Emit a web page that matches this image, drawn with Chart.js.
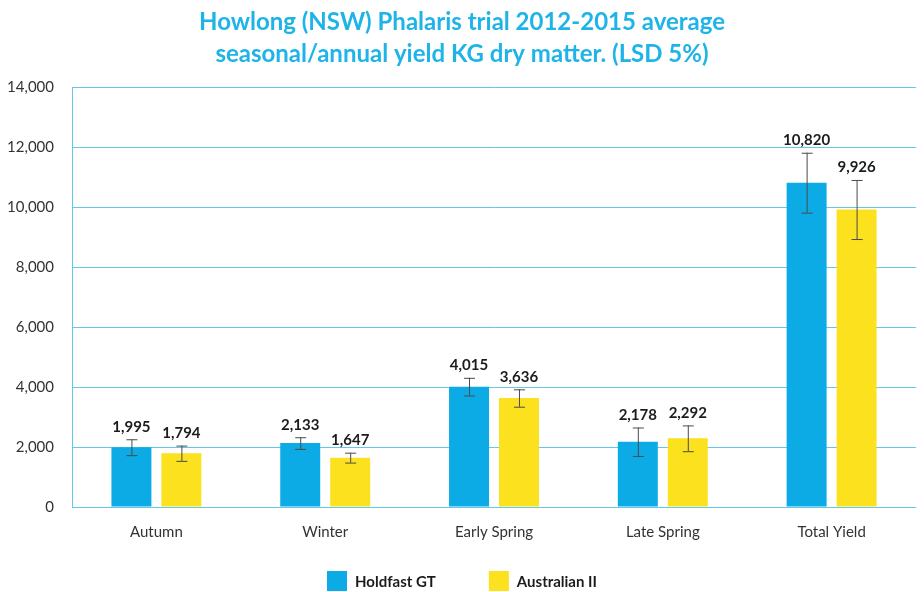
<!DOCTYPE html>
<html>
<head>
<meta charset="utf-8">
<script src="https://cdn.jsdelivr.net/npm/chart.js@4"></script>
<style>
	body { margin: 0; background: #fff; }
	#wrap { width: 924px; height: 592px; }
</style>
</head>
<body>
<div id="wrap"><canvas id="chart"></canvas></div>
<script>
// ----------------------------------------------------------------------
const categories = ["Autumn", "Winter", "Early Spring", "Late Spring", "Total Yield"]
const series_names = ["Holdfast GT", "Australian II"]
const holdfast = [1995, 2133, 4015, 2178, 10820]
const australian = [1794, 1647, 3636, 2292, 9926]
const holdfast_err = [265, 195, 295, 475, 1000]
const australian_err = [255, 165, 290, 430, 985]
const y_ticks = [0, 2000, 4000, 6000, 8000, 10000, 12000, 14000]

const title_lines = ["Howlong (NSW) Phalaris trial 2012-2015 average",
	"seasonal/annual yield KG dry matter. (LSD 5%)"]

const blue = "#0DABE6"
const yellow = "#FBE11E"
const cyan_text = "#1FB4E8"
const grid_cyan = "#62C9EB"

// ----------------------------------------------------------------------
function fmt (v)
{
	return v.toLocaleString("en-US")
}

// error bars and value labels
const bar_extras = {
	id: "bar_extras",
	afterDatasetsDraw (chart)
	{
		const ctx = chart.ctx
		const yscale = chart.scales.y
		chart.data.datasets.forEach(function (ds, i)
			{
			const meta = chart.getDatasetMeta(i)
			meta.data.forEach(function (bar, j)
				{
				const v = ds.data[j]
				const e = ds.errors[j]
				const top = yscale.getPixelForValue(v + e)
				const bot = yscale.getPixelForValue(v - e)
				ctx.save()
				ctx.strokeStyle = "#4a4a4a"
				ctx.lineWidth = 1
				ctx.beginPath()
				ctx.moveTo(bar.x + 0.5, top)
				ctx.lineTo(bar.x + 0.5, bot)
				ctx.moveTo(bar.x - 5, top + 0.5)
				ctx.lineTo(bar.x + 6, top + 0.5)
				ctx.moveTo(bar.x - 5, bot + 0.5)
				ctx.lineTo(bar.x + 6, bot + 0.5)
				ctx.stroke()

				ctx.fillStyle = "#1c1c1c"
				ctx.font = "bold 15px Lato"
				ctx.textAlign = "center"
				ctx.textBaseline = "bottom"
				ctx.fillText(fmt(v), bar.x, top - 5)
				ctx.restore()
				})
			})
	}
}

// legend drawn below the axis
const bottom_legend = {
	id: "bottom_legend",
	afterDraw (chart)
	{
		const ctx = chart.ctx
		const box = 20
		const gap = 8
		const item_gap = 53
		ctx.save()
		ctx.font = "bold 15px Lato"
		const items = chart.data.datasets.map(function (ds)
			{
			return {text: ds.label, color: ds.backgroundColor,
				w: box + gap + ctx.measureText(ds.label).width}
			})
		let total = 0
		items.forEach(function (it, k) { total += it.w + (k > 0 ? item_gap : 0) })
		let x = Math.round(chart.width / 2 - total / 2)
		const yc = 581
		items.forEach(function (it)
			{
			ctx.fillStyle = it.color
			ctx.fillRect(x, yc - box / 2, box, box)
			ctx.fillStyle = "#1c1c1c"
			ctx.textAlign = "left"
			ctx.textBaseline = "middle"
			ctx.fillText(it.text, x + box + gap, yc + 1)
			x += it.w + item_gap
			})
		ctx.restore()
	}
}

// ----------------------------------------------------------------------
const graph_data = {
	labels: categories,
	datasets: [
		{
		label: series_names[0],
		data: holdfast,
		errors: holdfast_err,
		backgroundColor: blue,
		categoryPercentage: 0.592,
		barPercentage: 0.8
		},
		{
		label: series_names[1],
		data: australian,
		errors: australian_err,
		backgroundColor: yellow,
		categoryPercentage: 0.592,
		barPercentage: 0.8
		}
	]
}

const config = {
	type: "bar",
	data: graph_data,
	plugins: [bar_extras, bottom_legend],
	options: {
		responsive: true,
		maintainAspectRatio: false,
		animation: false,
		layout: { padding: { left: 8, right: 8, top: 0, bottom: 52 } },
		plugins: {
			legend: { display: false },
			tooltip: { enabled: false },
			title: {
				display: true,
				text: title_lines,
				color: cyan_text,
				font: { family: "Lato", size: 24, weight: "bold", lineHeight: 1.3 },
				padding: { top: 7, bottom: 18 }
				}
			},
		scales: {
			x: {
				grid: { display: false, drawTicks: false },
				border: { display: false },
				ticks: { color: "#333", font: { family: "Lato", size: 15 }, padding: 16 },
				afterFit: function (axis) { axis.height = 33 }
				},
			y: {
				min: 0,
				max: 14000,
				afterBuildTicks: function (axis)
					{
					axis.ticks = y_ticks.map(function (v) { return {value: v} })
					},
				grid: { color: grid_cyan, lineWidth: 1, drawTicks: false },
				border: { display: true, color: grid_cyan },
				ticks: {
					color: "#333",
					font: { family: "Lato", size: 15 },
					padding: 18,
					callback: function (v) { return fmt(v) }
					},
				afterFit: function (axis) { axis.width = 64 }
				}
			}
		}
	}

const chart = new Chart(document.getElementById("chart"), config)
// ----------------------------------------------------------------------
</script>
</body>
</html>
